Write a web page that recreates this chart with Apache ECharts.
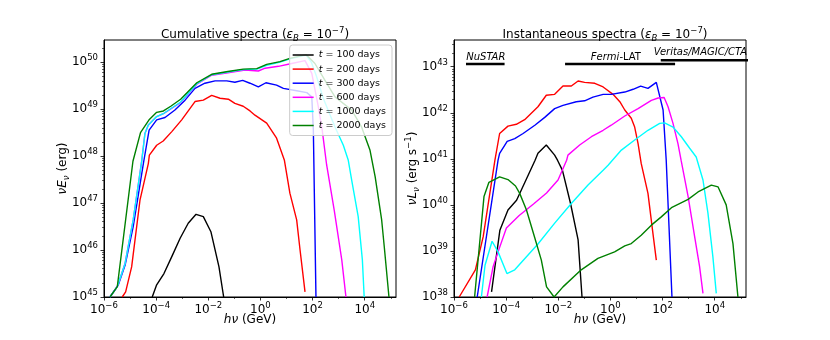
<!DOCTYPE html>
<html>
<head>
<meta charset="utf-8">
<script src="https://cdn.jsdelivr.net/npm/echarts@6/dist/echarts.min.js"></script>
<style>
html, body { margin: 0; padding: 0; background: #fff; }
#main { width: 830px; height: 340px; }
</style>
</head>
<body>
<div id="main"></div>
<script>
// every point is [log10(hv / GeV), log10(value)]
var names = ['t = 100 days', 't = 200 days', 't = 300 days', 't = 600 days', 't = 1000 days', 't = 2000 days'];
var colors = ['#000000', '#ff0000', '#0000ff', '#ff00ff', '#00ffff', '#008000'];

// cumulative spectra, nuE_nu (erg)
var cum100 = [[-4.15,45.0],[-3.98,45.26],[-3.7,45.5],[-3.4,45.86],[-3.08,46.25],[-2.77,46.57],[-2.47,46.76],[-2.19,46.71],[-1.9,46.39],[-1.59,45.64],[-1.41,45.0]];
var cum200 = [[-5.3,45.0],[-5.17,45.11],[-4.94,45.64],[-4.62,47.06],[-4.3,47.84],[-4.26,48.02],[-3.98,48.23],[-3.73,48.32],[-3.4,48.52],[-3.02,48.77],[-2.51,49.16],[-2.19,49.19],[-1.87,49.29],[-1.55,49.23],[-1.23,49.21],[-0.98,49.12],[-0.66,49.06],[-0.4,48.96],[-0.21,48.87],[0.24,48.7],[0.62,48.38],[0.92,47.91],[1.13,47.21],[1.39,46.64],[1.52,46.0],[1.71,45.11]];
var cum300 = [[-5.77,45.0],[-5.45,45.26],[-5.19,45.68],[-4.88,46.5],[-4.49,47.84],[-4.27,48.55],[-3.98,48.77],[-3.66,48.82],[-3.28,48.98],[-2.89,49.19],[-2.51,49.44],[-2.13,49.55],[-1.74,49.6],[-1.29,49.6],[-0.98,49.57],[-0.68,49.61],[-0.4,49.55],[-0.08,49.47],[0.21,49.56],[0.62,49.51],[0.88,49.44],[1.39,49.39],[1.78,49.35],[1.97,49.26],[2.03,48.55],[2.13,45.0]];
var cum600 = [[-5.77,45.0],[-5.49,45.22],[-5.19,45.72],[-4.88,46.64],[-4.55,47.91],[-4.43,48.48],[-4.3,48.66],[-3.98,48.84],[-3.7,48.91],[-3.06,49.14],[-2.44,49.53],[-1.87,49.72],[-1.25,49.77],[-0.59,49.83],[-0.08,49.81],[0.18,49.87],[0.69,49.91],[1.2,49.97],[1.71,50.03],[1.97,49.76],[2.22,49.05],[2.37,48.55],[2.54,47.81],[2.83,46.85],[3.12,45.79],[3.28,45.0]];
var cum1000 = [[-5.77,45.0],[-5.49,45.22],[-5.19,45.72],[-4.88,46.64],[-4.55,47.91],[-4.43,48.48],[-4.3,48.66],[-3.98,48.84],[-3.7,48.91],[-3.06,49.15],[-2.44,49.54],[-1.87,49.73],[-1.25,49.79],[-0.66,49.84],[-0.14,49.85],[0.24,49.93],[0.75,50.0],[1.13,50.07],[1.75,50.15],[1.95,50.0],[2.15,49.7],[2.41,49.23],[2.86,48.62],[3.18,48.23],[3.37,47.91],[3.5,47.49],[3.75,46.71],[3.91,45.79],[3.98,45.0]];
var cum2000 = [[-5.77,45.0],[-5.49,45.22],[-4.89,47.89],[-4.6,48.5],[-4.26,48.78],[-3.98,48.93],[-3.72,48.96],[-3.44,49.06],[-3.06,49.21],[-2.44,49.56],[-1.87,49.74],[-1.25,49.8],[-0.66,49.85],[-0.14,49.86],[0.24,49.95],[0.75,50.01],[1.13,50.08],[1.75,50.16],[2.09,49.97],[2.54,49.55],[2.86,49.26],[3.5,48.98],[3.88,48.62],[4.2,48.13],[4.4,47.56],[4.65,46.64],[4.75,46.07],[4.93,45.0]];

// instantaneous spectra, nuL_nu (erg/s)
var inst100 = [[-4.56,38.11],[-4.24,39.45],[-3.93,39.89],[-3.6,40.1],[-3.28,40.49],[-2.89,40.97],[-2.78,41.12],[-2.46,41.3],[-2.14,41.08],[-2.03,40.97],[-1.84,40.75],[-1.53,40.03],[-1.24,39.24],[-1.09,38.0]];
var inst200 = [[-5.8,38.0],[-5.18,38.59],[-4.88,39.31],[-4.43,40.97],[-4.25,41.55],[-3.93,41.71],[-3.61,41.75],[-3.29,41.85],[-2.78,42.13],[-2.46,42.38],[-2.14,42.4],[-1.82,42.58],[-1.5,42.58],[-1.24,42.69],[-0.99,42.66],[-0.6,42.64],[-0.28,42.56],[0.1,42.4],[0.36,42.24],[0.55,42.06],[0.8,41.88],[0.93,41.69],[1.06,41.33],[1.18,40.9],[1.44,40.25],[1.63,39.38],[1.76,38.8]];
var inst300 = [[-5.11,38.0],[-4.31,40.97],[-4.25,41.12],[-3.96,41.38],[-3.67,41.44],[-3.35,41.55],[-2.9,41.73],[-2.52,41.9],[-2.14,42.09],[-1.82,42.16],[-1.31,42.24],[-0.99,42.26],[-0.67,42.34],[-0.28,42.4],[0.03,42.4],[0.55,42.45],[0.87,42.51],[1.16,42.58],[1.44,42.53],[1.76,42.66],[2.02,42.06],[2.14,40.97],[2.36,38.0]];
var inst600 = [[-4.73,38.0],[-4.5,38.66],[-4.31,38.98],[-3.99,39.5],[-3.5,39.77],[-2.95,40.02],[-2.45,40.26],[-2.01,40.54],[-1.68,40.97],[-1.63,41.08],[-1.18,41.3],[-0.73,41.48],[-0.28,41.62],[0.03,41.73],[0.55,41.93],[1.06,42.09],[1.57,42.27],[1.83,42.32],[2.06,42.33],[2.21,42.13],[2.4,41.77],[2.59,41.33],[2.71,40.97],[2.98,40.18],[3.23,39.31],[3.42,38.66],[3.55,38.08]];
var inst1000 = [[-4.95,38.0],[-4.81,38.69],[-4.54,39.21],[-4.31,38.98],[-3.97,38.51],[-3.67,38.59],[-2.78,39.15],[-2.13,39.61],[-1.5,40.03],[-0.86,40.43],[-0.28,40.75],[-0.09,40.86],[0.42,41.19],[0.93,41.41],[1.44,41.62],[1.89,41.77],[2.08,41.78],[2.4,41.69],[2.72,41.48],[3.04,41.23],[3.29,41.04],[3.55,40.54],[3.74,39.82],[3.93,38.87],[4.06,38.08]];
var inst2000 = [[-5.21,38.0],[-4.85,40.18],[-4.66,40.49],[-4.25,40.61],[-3.93,40.55],[-3.64,40.41],[-3.48,40.25],[-3.22,39.89],[-2.9,39.28],[-2.65,38.8],[-2.45,38.22],[-2.16,38.0],[-1.82,38.22],[-1.12,38.59],[-0.48,38.84],[0.16,38.98],[0.55,39.11],[0.8,39.16],[1.18,39.34],[1.57,39.56],[1.95,39.74],[2.34,39.94],[2.98,40.12],[3.36,40.28],[3.87,40.43],[4.13,40.39],[4.44,40.0],[4.7,39.16],[4.89,38.0]];

// instrument energy bands drawn above the right panel
var nustarBand = [[-5.54,43.06],[-4.06,43.06]];
var fermiBand = [[-1.74,43.06],[2.48,43.06]];
var veritasBand = [[1.93,43.14],[6,43.14]];
var bandNames = ['NuSTAR', 'Fermi-LAT', 'Veritas/MAGIC/CTA'];
var bandLabelAt = [[-4.78,43.2],[0.21,43.2],[3.45,43.3]];

var xTicks = [-6, -4, -2, 0, 2, 4];
var xMinor = [-5, -3, -1, 1, 3, 5];
var cumTicks = [45, 46, 47, 48, 49, 50];
var instTicks = [38, 39, 40, 41, 42, 43];

var FONT = 'DejaVu Sans';
var rich = {
    it: { fontFamily: FONT, fontSize: 12, fontStyle: 'italic', color: '#000' },
    sup: { fontFamily: FONT, fontSize: 8.5, verticalAlign: 'top', lineHeight: 9, color: '#000' },
    subit: { fontFamily: FONT, fontSize: 8.5, fontStyle: 'italic', verticalAlign: 'bottom', lineHeight: 9, color: '#000' }
};

function minorLog(lo, hi) {
    var out = [];
    for (var n = lo; n < hi; n++) {
        for (var k = 2; k <= 9; k++) out.push(n + Math.log10(k));
    }
    return out;
}

function pow10(v) {
    var s = v < 0 ? '\u2212' + (-v) : '' + v;
    return '10{sup|' + s + '}';
}

function majorAxis(gridIndex, min, max, ticks, margin, extra) {
    var ax = {
        type: 'value', gridIndex: gridIndex, min: min, max: max,
        axisLine: { show: true, onZero: false, lineStyle: { color: '#000', width: 1 } },
        axisTick: { show: true, inside: false, length: 3.5, customValues: ticks, lineStyle: { color: '#000', width: 0.8 } },
        axisLabel: {
            customValues: ticks, margin: margin, color: '#000', fontFamily: FONT, fontSize: 12, lineHeight: 17,
            formatter: function (v) { return pow10(Math.round(v)); }, rich: rich
        },
        splitLine: { show: false }
    };
    for (var k in extra) ax[k] = extra[k];
    return ax;
}

function minorAxis(gridIndex, min, max, ticks, pos) {
    return {
        type: 'value', gridIndex: gridIndex, min: min, max: max, position: pos,
        axisLine: { show: false, onZero: false },
        axisTick: { show: true, inside: false, length: 2, customValues: ticks, lineStyle: { color: '#000', width: 0.6 } },
        axisLabel: { show: false },
        splitLine: { show: false }
    };
}

var nameStyle = { color: '#000', fontFamily: FONT, fontSize: 12, lineHeight: 17, rich: rich };

function curve(name, color, data, idx) {
    return {
        name: name, type: 'line', xAxisIndex: idx, yAxisIndex: idx, data: data,
        symbol: 'none', showSymbol: false, animation: false,
        lineStyle: { color: color, width: 1.4 }, itemStyle: { color: color }
    };
}

var cumSets = [cum100, cum200, cum300, cum600, cum1000, cum2000];
var instSets = [inst100, inst200, inst300, inst600, inst1000, inst2000];
var series = [];
for (var i = 0; i < names.length; i++) series.push(curve(names[i], colors[i], cumSets[i], 0));
for (var j = 0; j < names.length; j++) series.push(curve(names[j], colors[j], instSets[j], 1));

[nustarBand, fermiBand, veritasBand].forEach(function (b, k) {
    series.push({
        name: bandNames[k] + ' band', type: 'line', xAxisIndex: 1, yAxisIndex: 1, data: b,
        symbol: 'none', animation: false, lineStyle: { color: '#000', width: 2.6 }
    });
});
series.push({
    name: 'bands', type: 'scatter', xAxisIndex: 1, yAxisIndex: 1, symbolSize: 0, animation: false,
    itemStyle: { opacity: 1 },
    data: bandNames.map(function (n, k) { return { name: n, value: bandLabelAt[k] }; }),
    label: {
        show: true, position: 'inside', color: '#000', opacity: 1, textBorderWidth: 0, fontFamily: FONT, fontSize: 10,
        formatter: function (p) {
            return p.name === 'Fermi-LAT' ? '{i|Fermi}-LAT' : '{i|' + p.name + '}';
        },
        rich: { i: { fontFamily: FONT, fontSize: 10, fontStyle: 'italic', color: '#000', textBorderWidth: 0 } }
    }
});

var chart = echarts.init(document.getElementById('main'), null, { renderer: 'canvas' });
chart.setOption({
    backgroundColor: '#fff',
    animation: false,
    textStyle: { fontFamily: FONT },
    title: [
        { text: 'Cumulative spectra ({it|\u03b5}{subit|B} = 10{sup|\u22127})', left: 250, top: 21, textAlign: 'center',
          textStyle: { color: '#000', fontFamily: FONT, fontSize: 12, fontWeight: 'normal', lineHeight: 17, rich: rich } },
        { text: 'Instantaneous spectra ({it|\u03b5}{subit|B} = 10{sup|\u22127})', left: 600, top: 21, textAlign: 'center',
          textStyle: { color: '#000', fontFamily: FONT, fontSize: 12, fontWeight: 'normal', lineHeight: 17, rich: rich } }
    ],
    legend: {
        data: names, orient: 'vertical', right: 438, top: 45,
        backgroundColor: 'rgba(255,255,255,0.8)', borderColor: '#cccccc', borderWidth: 1, borderRadius: 3,
        padding: [3, 6, 3, 3], icon: 'rect', itemWidth: 21, itemHeight: 1.5, itemGap: 0.1,
        selectedMode: false,
        textStyle: { color: '#000', fontFamily: FONT, fontSize: 9.5, lineHeight: 14, rich: { i: { fontFamily: FONT, fontSize: 9.5, fontStyle: 'italic', color: '#000', lineHeight: 14 } } },
        formatter: function (n) { return '{i|t}' + n.slice(1); }
    },
    grid: [
        { left: 104, top: 40, width: 292, height: 257, show: true, borderColor: '#000', borderWidth: 1, containLabel: false, outerBoundsMode: 'none' },
        { left: 454, top: 40, width: 292, height: 257, show: true, borderColor: '#000', borderWidth: 1, containLabel: false, outerBoundsMode: 'none' }
    ],
    xAxis: [
        majorAxis(0, -6, 5.2, xTicks, 4, { position: 'bottom', name: '{it|h\u03bd} (GeV)', nameLocation: 'middle', nameGap: 14, nameMoveOverlap: false, nameTextStyle: nameStyle }),
        majorAxis(1, -6, 5.2, xTicks, 4, { position: 'bottom', name: '{it|h\u03bd} (GeV)', nameLocation: 'middle', nameGap: 14, nameMoveOverlap: false, nameTextStyle: nameStyle }),
        minorAxis(0, -6, 5.2, xMinor, 'bottom'),
        minorAxis(1, -6, 5.2, xMinor, 'bottom')
    ],
    yAxis: [
        majorAxis(0, 45, 50.47, cumTicks, 6, { position: 'left', name: '{it|\u03bdE}{subit|\u03bd} (erg)', nameLocation: 'middle', nameGap: 33, nameMoveOverlap: false, nameRotate: 90, nameTextStyle: nameStyle }),
        majorAxis(1, 38, 43.58, instTicks, 6, { position: 'left', name: '{it|\u03bdL}{subit|\u03bd} (erg s{sup|\u22121})', nameLocation: 'middle', nameGap: 33, nameMoveOverlap: false, nameRotate: 90, nameTextStyle: nameStyle }),
        minorAxis(0, 45, 50.47, minorLog(45, 51), 'left'),
        minorAxis(1, 38, 43.58, minorLog(38, 44), 'left')
    ],
    series: series
});
</script>
</body>
</html>
